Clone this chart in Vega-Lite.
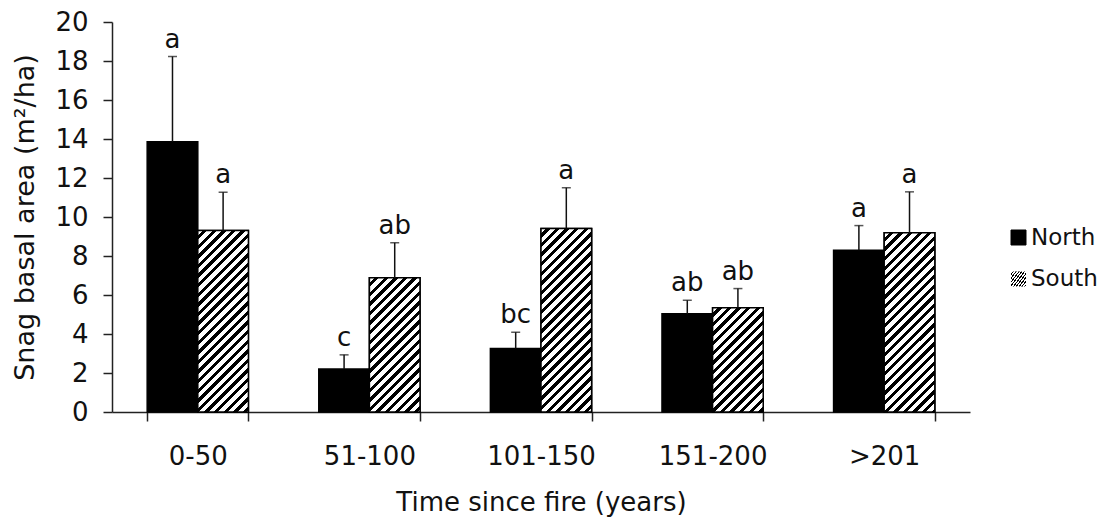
{
  "$schema": "https://vega.github.io/schema/vega-lite/v6.json",
  "width": 858,
  "height": 390,
  "autosize": {"type": "none"},
  "padding": {"left": 112, "top": 22, "right": 134, "bottom": 105},
  "background": "white",
  "config": {
    "view": {"stroke": null},
    "font": "DejaVu Sans",
    "text": {"font": "DejaVu Sans"},
    "axisY": {
      "tickCount": 10,
      "labelOverlap": false,
      "labelFontSize": 26,
      "labelColor": "#111",
      "labelPadding": 15,
      "tickSize": 9,
      "tickWidth": 1.5,
      "tickColor": "#222",
      "domainColor": "#222",
      "domainWidth": 1.5,
      "grid": false,
      "titleFontSize": 27,
      "titleFontWeight": "normal",
      "titleColor": "#111",
      "titleBaseline": "middle",
      "titleX": -87,
      "titleY": 195
    },
    "axisX": {
      "titleFontSize": 26,
      "titleFontWeight": "normal",
      "titleColor": "#111",
      "titleBaseline": "alphabetic",
      "titleX": 429,
      "titleY": 98,
      "labelAngle": 0,
      "labelFontSize": 26,
      "labelColor": "#111",
      "labelBaseline": "alphabetic",
      "labelPadding": 43,
      "labelOverlap": false,
      "tickBand": "extent",
      "tickSize": 9,
      "tickWidth": 1.5,
      "tickColor": "#222",
      "domainColor": "#222",
      "domainWidth": 1.5,
      "grid": false
    }
  },
  "data": {
    "values": [
      {"period": "0-50", "site": "North", "mean": 13.86, "upper": 18.23, "sig": "a"},
      {"period": "0-50", "site": "South", "mean": 9.31, "upper": 11.27, "sig": "a"},
      {"period": "51-100", "site": "North", "mean": 2.21, "upper": 2.93, "sig": "c"},
      {"period": "51-100", "site": "South", "mean": 6.88, "upper": 8.68, "sig": "ab"},
      {"period": "101-150", "site": "North", "mean": 3.26, "upper": 4.09, "sig": "bc"},
      {"period": "101-150", "site": "South", "mean": 9.41, "upper": 11.5, "sig": "a"},
      {"period": "151-200", "site": "North", "mean": 5.04, "upper": 5.73, "sig": "ab"},
      {"period": "151-200", "site": "South", "mean": 5.34, "upper": 6.33, "sig": "ab"},
      {"period": ">201", "site": "North", "mean": 8.3, "upper": 9.56, "sig": "a"},
      {"period": ">201", "site": "South", "mean": 9.19, "upper": 11.29, "sig": "a"}
    ]
  },
  "encoding": {
    "x": {
      "field": "period",
      "type": "nominal",
      "sort": ["0-50", "51-100", "101-150", "151-200", ">201"],
      "scale": {"paddingInner": 0.41, "paddingOuter": 0.205},
      "axis": {"title": "Time since fire (years)"}
    },
    "xOffset": {"field": "site", "type": "nominal", "scale": {"domain": ["North", "South"], "paddingInner": 0, "paddingOuter": 0}}
  },
  "layer": [
    {
      "mark": {"type": "bar", "stroke": "#000", "strokeWidth": 1.5},
      "encoding": {
        "y": {
          "field": "mean",
          "type": "quantitative",
          "scale": {"domain": [0, 20], "nice": false},
          "axis": {"title": "Snag basal area (m²/ha)"}
        },
        "color": {
          "field": "site",
          "type": "nominal",
          "scale": {"domain": ["North", "South"], "range": ["#000", "#fff"]},
          "legend": {
            "title": null,
            "values": ["North"],
            "orient": "none",
            "legendX": 895,
            "legendY": 204,
            "padding": 0,
            "symbolType": "square",
            "symbolSize": 225,
            "symbolStrokeColor": "#000",
            "symbolStrokeWidth": 1,
            "labelFontSize": 23,
            "labelColor": "#111",
            "labelOffset": 1
          }
        }
      }
    },
    {
      "transform": [{"filter": "datum.site === 'South' && datum.period === '0-50'"}],
      "mark": {"type": "bar", "stroke": "#000", "strokeWidth": 1.5, "fill": {"gradient": "linear", "x1": 0, "y1": 0, "x2": 0.34217, "y2": 1.2269, "stops": [
        {"offset": 0, "color": "#fff"}, {"offset": 0.022, "color": "#fff"}, {"offset": 0.022, "color": "#000"}, {"offset": 0.04, "color": "#000"},
        {"offset": 0.04, "color": "#fff"}, {"offset": 0.062, "color": "#fff"}, {"offset": 0.062, "color": "#000"}, {"offset": 0.08, "color": "#000"},
        {"offset": 0.08, "color": "#fff"}, {"offset": 0.102, "color": "#fff"}, {"offset": 0.102, "color": "#000"}, {"offset": 0.12, "color": "#000"},
        {"offset": 0.12, "color": "#fff"}, {"offset": 0.142, "color": "#fff"}, {"offset": 0.142, "color": "#000"}, {"offset": 0.16, "color": "#000"},
        {"offset": 0.16, "color": "#fff"}, {"offset": 0.182, "color": "#fff"}, {"offset": 0.182, "color": "#000"}, {"offset": 0.2, "color": "#000"},
        {"offset": 0.2, "color": "#fff"}, {"offset": 0.222, "color": "#fff"}, {"offset": 0.222, "color": "#000"}, {"offset": 0.24, "color": "#000"},
        {"offset": 0.24, "color": "#fff"}, {"offset": 0.262, "color": "#fff"}, {"offset": 0.262, "color": "#000"}, {"offset": 0.28, "color": "#000"},
        {"offset": 0.28, "color": "#fff"}, {"offset": 0.302, "color": "#fff"}, {"offset": 0.302, "color": "#000"}, {"offset": 0.32, "color": "#000"},
        {"offset": 0.32, "color": "#fff"}, {"offset": 0.342, "color": "#fff"}, {"offset": 0.342, "color": "#000"}, {"offset": 0.36, "color": "#000"},
        {"offset": 0.36, "color": "#fff"}, {"offset": 0.382, "color": "#fff"}, {"offset": 0.382, "color": "#000"}, {"offset": 0.4, "color": "#000"},
        {"offset": 0.4, "color": "#fff"}, {"offset": 0.422, "color": "#fff"}, {"offset": 0.422, "color": "#000"}, {"offset": 0.44, "color": "#000"},
        {"offset": 0.44, "color": "#fff"}, {"offset": 0.462, "color": "#fff"}, {"offset": 0.462, "color": "#000"}, {"offset": 0.48, "color": "#000"},
        {"offset": 0.48, "color": "#fff"}, {"offset": 0.502, "color": "#fff"}, {"offset": 0.502, "color": "#000"}, {"offset": 0.52, "color": "#000"},
        {"offset": 0.52, "color": "#fff"}, {"offset": 0.542, "color": "#fff"}, {"offset": 0.542, "color": "#000"}, {"offset": 0.56, "color": "#000"},
        {"offset": 0.56, "color": "#fff"}, {"offset": 0.582, "color": "#fff"}, {"offset": 0.582, "color": "#000"}, {"offset": 0.6, "color": "#000"},
        {"offset": 0.6, "color": "#fff"}, {"offset": 0.622, "color": "#fff"}, {"offset": 0.622, "color": "#000"}, {"offset": 0.64, "color": "#000"},
        {"offset": 0.64, "color": "#fff"}, {"offset": 0.662, "color": "#fff"}, {"offset": 0.662, "color": "#000"}, {"offset": 0.68, "color": "#000"},
        {"offset": 0.68, "color": "#fff"}, {"offset": 0.702, "color": "#fff"}, {"offset": 0.702, "color": "#000"}, {"offset": 0.72, "color": "#000"},
        {"offset": 0.72, "color": "#fff"}, {"offset": 0.742, "color": "#fff"}, {"offset": 0.742, "color": "#000"}, {"offset": 0.76, "color": "#000"},
        {"offset": 0.76, "color": "#fff"}, {"offset": 0.782, "color": "#fff"}, {"offset": 0.782, "color": "#000"}, {"offset": 0.8, "color": "#000"},
        {"offset": 0.8, "color": "#fff"}, {"offset": 0.822, "color": "#fff"}, {"offset": 0.822, "color": "#000"}, {"offset": 0.84, "color": "#000"},
        {"offset": 0.84, "color": "#fff"}, {"offset": 0.862, "color": "#fff"}, {"offset": 0.862, "color": "#000"}, {"offset": 0.88, "color": "#000"},
        {"offset": 0.88, "color": "#fff"}, {"offset": 0.902, "color": "#fff"}, {"offset": 0.902, "color": "#000"}, {"offset": 0.92, "color": "#000"},
        {"offset": 0.92, "color": "#fff"}, {"offset": 0.942, "color": "#fff"}, {"offset": 0.942, "color": "#000"}, {"offset": 0.96, "color": "#000"},
        {"offset": 0.96, "color": "#fff"}, {"offset": 0.982, "color": "#fff"}, {"offset": 0.982, "color": "#000"}, {"offset": 1, "color": "#000"}
      ]}},
      "encoding": {
        "y": {"field": "mean", "type": "quantitative"},
        "opacity": {
          "field": "site",
          "type": "nominal",
          "scale": {"domain": ["South"], "range": [1]},
          "legend": {
            "title": null,
            "orient": "none",
            "legendX": 895,
            "legendY": 245.5,
            "padding": 0,
            "symbolType": "M-1,-1H1V1H-1Z M-1,-0.5L-0.5,-1 M-1,0.1L0.1,-1 M-1,0.7L0.7,-1 M-0.7,1L1,-0.7 M-0.1,1L1,-0.1 M0.5,1L1,0.5",
            "symbolSize": 225,
            "symbolFillColor": "#fff",
            "symbolStrokeColor": "#000",
            "symbolStrokeWidth": 1.3,
            "labelFontSize": 23,
            "labelColor": "#111",
            "labelOffset": 1
          }
        }
      }
    },
    {
      "transform": [{"filter": "datum.site === 'South' && datum.period === '51-100'"}],
      "mark": {"type": "bar", "stroke": "#000", "strokeWidth": 1.5, "fill": {"gradient": "linear", "x1": 0, "y1": 0, "x2": 0.5909, "y2": 1.5659, "stops": [
        {"offset": 0, "color": "#fff"}, {"offset": 0.022, "color": "#fff"}, {"offset": 0.022, "color": "#000"}, {"offset": 0.04, "color": "#000"},
        {"offset": 0.04, "color": "#fff"}, {"offset": 0.062, "color": "#fff"}, {"offset": 0.062, "color": "#000"}, {"offset": 0.08, "color": "#000"},
        {"offset": 0.08, "color": "#fff"}, {"offset": 0.102, "color": "#fff"}, {"offset": 0.102, "color": "#000"}, {"offset": 0.12, "color": "#000"},
        {"offset": 0.12, "color": "#fff"}, {"offset": 0.142, "color": "#fff"}, {"offset": 0.142, "color": "#000"}, {"offset": 0.16, "color": "#000"},
        {"offset": 0.16, "color": "#fff"}, {"offset": 0.182, "color": "#fff"}, {"offset": 0.182, "color": "#000"}, {"offset": 0.2, "color": "#000"},
        {"offset": 0.2, "color": "#fff"}, {"offset": 0.222, "color": "#fff"}, {"offset": 0.222, "color": "#000"}, {"offset": 0.24, "color": "#000"},
        {"offset": 0.24, "color": "#fff"}, {"offset": 0.262, "color": "#fff"}, {"offset": 0.262, "color": "#000"}, {"offset": 0.28, "color": "#000"},
        {"offset": 0.28, "color": "#fff"}, {"offset": 0.302, "color": "#fff"}, {"offset": 0.302, "color": "#000"}, {"offset": 0.32, "color": "#000"},
        {"offset": 0.32, "color": "#fff"}, {"offset": 0.342, "color": "#fff"}, {"offset": 0.342, "color": "#000"}, {"offset": 0.36, "color": "#000"},
        {"offset": 0.36, "color": "#fff"}, {"offset": 0.382, "color": "#fff"}, {"offset": 0.382, "color": "#000"}, {"offset": 0.4, "color": "#000"},
        {"offset": 0.4, "color": "#fff"}, {"offset": 0.422, "color": "#fff"}, {"offset": 0.422, "color": "#000"}, {"offset": 0.44, "color": "#000"},
        {"offset": 0.44, "color": "#fff"}, {"offset": 0.462, "color": "#fff"}, {"offset": 0.462, "color": "#000"}, {"offset": 0.48, "color": "#000"},
        {"offset": 0.48, "color": "#fff"}, {"offset": 0.502, "color": "#fff"}, {"offset": 0.502, "color": "#000"}, {"offset": 0.52, "color": "#000"},
        {"offset": 0.52, "color": "#fff"}, {"offset": 0.542, "color": "#fff"}, {"offset": 0.542, "color": "#000"}, {"offset": 0.56, "color": "#000"},
        {"offset": 0.56, "color": "#fff"}, {"offset": 0.582, "color": "#fff"}, {"offset": 0.582, "color": "#000"}, {"offset": 0.6, "color": "#000"},
        {"offset": 0.6, "color": "#fff"}, {"offset": 0.622, "color": "#fff"}, {"offset": 0.622, "color": "#000"}, {"offset": 0.64, "color": "#000"},
        {"offset": 0.64, "color": "#fff"}, {"offset": 0.662, "color": "#fff"}, {"offset": 0.662, "color": "#000"}, {"offset": 0.68, "color": "#000"},
        {"offset": 0.68, "color": "#fff"}, {"offset": 0.702, "color": "#fff"}, {"offset": 0.702, "color": "#000"}, {"offset": 0.72, "color": "#000"},
        {"offset": 0.72, "color": "#fff"}, {"offset": 0.742, "color": "#fff"}, {"offset": 0.742, "color": "#000"}, {"offset": 0.76, "color": "#000"},
        {"offset": 0.76, "color": "#fff"}, {"offset": 0.782, "color": "#fff"}, {"offset": 0.782, "color": "#000"}, {"offset": 0.8, "color": "#000"}
      ]}},
      "encoding": {"y": {"field": "mean", "type": "quantitative"}}
    },
    {
      "transform": [{"filter": "datum.site === 'South' && datum.period === '101-150'"}],
      "mark": {"type": "bar", "stroke": "#000", "strokeWidth": 1.5, "fill": {"gradient": "linear", "x1": 0, "y1": 0, "x2": 0.33528, "y2": 1.21541, "stops": [
        {"offset": 0, "color": "#fff"}, {"offset": 0.022, "color": "#fff"}, {"offset": 0.022, "color": "#000"}, {"offset": 0.04, "color": "#000"},
        {"offset": 0.04, "color": "#fff"}, {"offset": 0.062, "color": "#fff"}, {"offset": 0.062, "color": "#000"}, {"offset": 0.08, "color": "#000"},
        {"offset": 0.08, "color": "#fff"}, {"offset": 0.102, "color": "#fff"}, {"offset": 0.102, "color": "#000"}, {"offset": 0.12, "color": "#000"},
        {"offset": 0.12, "color": "#fff"}, {"offset": 0.142, "color": "#fff"}, {"offset": 0.142, "color": "#000"}, {"offset": 0.16, "color": "#000"},
        {"offset": 0.16, "color": "#fff"}, {"offset": 0.182, "color": "#fff"}, {"offset": 0.182, "color": "#000"}, {"offset": 0.2, "color": "#000"},
        {"offset": 0.2, "color": "#fff"}, {"offset": 0.222, "color": "#fff"}, {"offset": 0.222, "color": "#000"}, {"offset": 0.24, "color": "#000"},
        {"offset": 0.24, "color": "#fff"}, {"offset": 0.262, "color": "#fff"}, {"offset": 0.262, "color": "#000"}, {"offset": 0.28, "color": "#000"},
        {"offset": 0.28, "color": "#fff"}, {"offset": 0.302, "color": "#fff"}, {"offset": 0.302, "color": "#000"}, {"offset": 0.32, "color": "#000"},
        {"offset": 0.32, "color": "#fff"}, {"offset": 0.342, "color": "#fff"}, {"offset": 0.342, "color": "#000"}, {"offset": 0.36, "color": "#000"},
        {"offset": 0.36, "color": "#fff"}, {"offset": 0.382, "color": "#fff"}, {"offset": 0.382, "color": "#000"}, {"offset": 0.4, "color": "#000"},
        {"offset": 0.4, "color": "#fff"}, {"offset": 0.422, "color": "#fff"}, {"offset": 0.422, "color": "#000"}, {"offset": 0.44, "color": "#000"},
        {"offset": 0.44, "color": "#fff"}, {"offset": 0.462, "color": "#fff"}, {"offset": 0.462, "color": "#000"}, {"offset": 0.48, "color": "#000"},
        {"offset": 0.48, "color": "#fff"}, {"offset": 0.502, "color": "#fff"}, {"offset": 0.502, "color": "#000"}, {"offset": 0.52, "color": "#000"},
        {"offset": 0.52, "color": "#fff"}, {"offset": 0.542, "color": "#fff"}, {"offset": 0.542, "color": "#000"}, {"offset": 0.56, "color": "#000"},
        {"offset": 0.56, "color": "#fff"}, {"offset": 0.582, "color": "#fff"}, {"offset": 0.582, "color": "#000"}, {"offset": 0.6, "color": "#000"},
        {"offset": 0.6, "color": "#fff"}, {"offset": 0.622, "color": "#fff"}, {"offset": 0.622, "color": "#000"}, {"offset": 0.64, "color": "#000"},
        {"offset": 0.64, "color": "#fff"}, {"offset": 0.662, "color": "#fff"}, {"offset": 0.662, "color": "#000"}, {"offset": 0.68, "color": "#000"},
        {"offset": 0.68, "color": "#fff"}, {"offset": 0.702, "color": "#fff"}, {"offset": 0.702, "color": "#000"}, {"offset": 0.72, "color": "#000"},
        {"offset": 0.72, "color": "#fff"}, {"offset": 0.742, "color": "#fff"}, {"offset": 0.742, "color": "#000"}, {"offset": 0.76, "color": "#000"},
        {"offset": 0.76, "color": "#fff"}, {"offset": 0.782, "color": "#fff"}, {"offset": 0.782, "color": "#000"}, {"offset": 0.8, "color": "#000"},
        {"offset": 0.8, "color": "#fff"}, {"offset": 0.822, "color": "#fff"}, {"offset": 0.822, "color": "#000"}, {"offset": 0.84, "color": "#000"},
        {"offset": 0.84, "color": "#fff"}, {"offset": 0.862, "color": "#fff"}, {"offset": 0.862, "color": "#000"}, {"offset": 0.88, "color": "#000"},
        {"offset": 0.88, "color": "#fff"}, {"offset": 0.902, "color": "#fff"}, {"offset": 0.902, "color": "#000"}, {"offset": 0.92, "color": "#000"},
        {"offset": 0.92, "color": "#fff"}, {"offset": 0.942, "color": "#fff"}, {"offset": 0.942, "color": "#000"}, {"offset": 0.96, "color": "#000"},
        {"offset": 0.96, "color": "#fff"}, {"offset": 0.982, "color": "#fff"}, {"offset": 0.982, "color": "#000"}, {"offset": 1, "color": "#000"}
      ]}},
      "encoding": {"y": {"field": "mean", "type": "quantitative"}}
    },
    {
      "transform": [{"filter": "datum.site === 'South' && datum.period === '151-200'"}],
      "mark": {"type": "bar", "stroke": "#000", "strokeWidth": 1.5, "fill": {"gradient": "linear", "x1": 0, "y1": 0, "x2": 0.9063, "y2": 1.8643, "stops": [
        {"offset": 0, "color": "#fff"}, {"offset": 0.022, "color": "#fff"}, {"offset": 0.022, "color": "#000"}, {"offset": 0.04, "color": "#000"},
        {"offset": 0.04, "color": "#fff"}, {"offset": 0.062, "color": "#fff"}, {"offset": 0.062, "color": "#000"}, {"offset": 0.08, "color": "#000"},
        {"offset": 0.08, "color": "#fff"}, {"offset": 0.102, "color": "#fff"}, {"offset": 0.102, "color": "#000"}, {"offset": 0.12, "color": "#000"},
        {"offset": 0.12, "color": "#fff"}, {"offset": 0.142, "color": "#fff"}, {"offset": 0.142, "color": "#000"}, {"offset": 0.16, "color": "#000"},
        {"offset": 0.16, "color": "#fff"}, {"offset": 0.182, "color": "#fff"}, {"offset": 0.182, "color": "#000"}, {"offset": 0.2, "color": "#000"},
        {"offset": 0.2, "color": "#fff"}, {"offset": 0.222, "color": "#fff"}, {"offset": 0.222, "color": "#000"}, {"offset": 0.24, "color": "#000"},
        {"offset": 0.24, "color": "#fff"}, {"offset": 0.262, "color": "#fff"}, {"offset": 0.262, "color": "#000"}, {"offset": 0.28, "color": "#000"},
        {"offset": 0.28, "color": "#fff"}, {"offset": 0.302, "color": "#fff"}, {"offset": 0.302, "color": "#000"}, {"offset": 0.32, "color": "#000"},
        {"offset": 0.32, "color": "#fff"}, {"offset": 0.342, "color": "#fff"}, {"offset": 0.342, "color": "#000"}, {"offset": 0.36, "color": "#000"},
        {"offset": 0.36, "color": "#fff"}, {"offset": 0.382, "color": "#fff"}, {"offset": 0.382, "color": "#000"}, {"offset": 0.4, "color": "#000"},
        {"offset": 0.4, "color": "#fff"}, {"offset": 0.422, "color": "#fff"}, {"offset": 0.422, "color": "#000"}, {"offset": 0.44, "color": "#000"},
        {"offset": 0.44, "color": "#fff"}, {"offset": 0.462, "color": "#fff"}, {"offset": 0.462, "color": "#000"}, {"offset": 0.48, "color": "#000"},
        {"offset": 0.48, "color": "#fff"}, {"offset": 0.502, "color": "#fff"}, {"offset": 0.502, "color": "#000"}, {"offset": 0.52, "color": "#000"},
        {"offset": 0.52, "color": "#fff"}, {"offset": 0.542, "color": "#fff"}, {"offset": 0.542, "color": "#000"}, {"offset": 0.56, "color": "#000"},
        {"offset": 0.56, "color": "#fff"}, {"offset": 0.582, "color": "#fff"}, {"offset": 0.582, "color": "#000"}, {"offset": 0.6, "color": "#000"},
        {"offset": 0.6, "color": "#fff"}, {"offset": 0.622, "color": "#fff"}, {"offset": 0.622, "color": "#000"}, {"offset": 0.64, "color": "#000"},
        {"offset": 0.64, "color": "#fff"}, {"offset": 0.662, "color": "#fff"}, {"offset": 0.662, "color": "#000"}, {"offset": 0.68, "color": "#000"}
      ]}},
      "encoding": {"y": {"field": "mean", "type": "quantitative"}}
    },
    {
      "transform": [{"filter": "datum.site === 'South' && datum.period === '>201'"}],
      "mark": {"type": "bar", "stroke": "#000", "strokeWidth": 1.5, "fill": {"gradient": "linear", "x1": 0, "y1": 0, "x2": 0.35036, "y2": 1.24032, "stops": [
        {"offset": 0, "color": "#fff"}, {"offset": 0.022, "color": "#fff"}, {"offset": 0.022, "color": "#000"}, {"offset": 0.04, "color": "#000"},
        {"offset": 0.04, "color": "#fff"}, {"offset": 0.062, "color": "#fff"}, {"offset": 0.062, "color": "#000"}, {"offset": 0.08, "color": "#000"},
        {"offset": 0.08, "color": "#fff"}, {"offset": 0.102, "color": "#fff"}, {"offset": 0.102, "color": "#000"}, {"offset": 0.12, "color": "#000"},
        {"offset": 0.12, "color": "#fff"}, {"offset": 0.142, "color": "#fff"}, {"offset": 0.142, "color": "#000"}, {"offset": 0.16, "color": "#000"},
        {"offset": 0.16, "color": "#fff"}, {"offset": 0.182, "color": "#fff"}, {"offset": 0.182, "color": "#000"}, {"offset": 0.2, "color": "#000"},
        {"offset": 0.2, "color": "#fff"}, {"offset": 0.222, "color": "#fff"}, {"offset": 0.222, "color": "#000"}, {"offset": 0.24, "color": "#000"},
        {"offset": 0.24, "color": "#fff"}, {"offset": 0.262, "color": "#fff"}, {"offset": 0.262, "color": "#000"}, {"offset": 0.28, "color": "#000"},
        {"offset": 0.28, "color": "#fff"}, {"offset": 0.302, "color": "#fff"}, {"offset": 0.302, "color": "#000"}, {"offset": 0.32, "color": "#000"},
        {"offset": 0.32, "color": "#fff"}, {"offset": 0.342, "color": "#fff"}, {"offset": 0.342, "color": "#000"}, {"offset": 0.36, "color": "#000"},
        {"offset": 0.36, "color": "#fff"}, {"offset": 0.382, "color": "#fff"}, {"offset": 0.382, "color": "#000"}, {"offset": 0.4, "color": "#000"},
        {"offset": 0.4, "color": "#fff"}, {"offset": 0.422, "color": "#fff"}, {"offset": 0.422, "color": "#000"}, {"offset": 0.44, "color": "#000"},
        {"offset": 0.44, "color": "#fff"}, {"offset": 0.462, "color": "#fff"}, {"offset": 0.462, "color": "#000"}, {"offset": 0.48, "color": "#000"},
        {"offset": 0.48, "color": "#fff"}, {"offset": 0.502, "color": "#fff"}, {"offset": 0.502, "color": "#000"}, {"offset": 0.52, "color": "#000"},
        {"offset": 0.52, "color": "#fff"}, {"offset": 0.542, "color": "#fff"}, {"offset": 0.542, "color": "#000"}, {"offset": 0.56, "color": "#000"},
        {"offset": 0.56, "color": "#fff"}, {"offset": 0.582, "color": "#fff"}, {"offset": 0.582, "color": "#000"}, {"offset": 0.6, "color": "#000"},
        {"offset": 0.6, "color": "#fff"}, {"offset": 0.622, "color": "#fff"}, {"offset": 0.622, "color": "#000"}, {"offset": 0.64, "color": "#000"},
        {"offset": 0.64, "color": "#fff"}, {"offset": 0.662, "color": "#fff"}, {"offset": 0.662, "color": "#000"}, {"offset": 0.68, "color": "#000"},
        {"offset": 0.68, "color": "#fff"}, {"offset": 0.702, "color": "#fff"}, {"offset": 0.702, "color": "#000"}, {"offset": 0.72, "color": "#000"},
        {"offset": 0.72, "color": "#fff"}, {"offset": 0.742, "color": "#fff"}, {"offset": 0.742, "color": "#000"}, {"offset": 0.76, "color": "#000"},
        {"offset": 0.76, "color": "#fff"}, {"offset": 0.782, "color": "#fff"}, {"offset": 0.782, "color": "#000"}, {"offset": 0.8, "color": "#000"},
        {"offset": 0.8, "color": "#fff"}, {"offset": 0.822, "color": "#fff"}, {"offset": 0.822, "color": "#000"}, {"offset": 0.84, "color": "#000"},
        {"offset": 0.84, "color": "#fff"}, {"offset": 0.862, "color": "#fff"}, {"offset": 0.862, "color": "#000"}, {"offset": 0.88, "color": "#000"},
        {"offset": 0.88, "color": "#fff"}, {"offset": 0.902, "color": "#fff"}, {"offset": 0.902, "color": "#000"}, {"offset": 0.92, "color": "#000"},
        {"offset": 0.92, "color": "#fff"}, {"offset": 0.942, "color": "#fff"}, {"offset": 0.942, "color": "#000"}, {"offset": 0.96, "color": "#000"},
        {"offset": 0.96, "color": "#fff"}, {"offset": 0.982, "color": "#fff"}, {"offset": 0.982, "color": "#000"}, {"offset": 1, "color": "#000"}
      ]}},
      "encoding": {"y": {"field": "mean", "type": "quantitative"}}
    },
    {
      "mark": {"type": "rule", "stroke": "#111", "strokeWidth": 1.5},
      "encoding": {
        "y": {"field": "mean", "type": "quantitative"},
        "y2": {"field": "upper"}
      }
    },
    {
      "mark": {"type": "tick", "color": "#111", "size": 9, "thickness": 1.5, "orient": "horizontal"},
      "encoding": {"y": {"field": "upper", "type": "quantitative"}}
    },
    {
      "mark": {"type": "text", "baseline": "alphabetic", "align": "center", "dy": -9, "fontSize": 26, "color": "#111"},
      "encoding": {
        "y": {"field": "upper", "type": "quantitative"},
        "text": {"field": "sig"}
      }
    }
  ]
}
